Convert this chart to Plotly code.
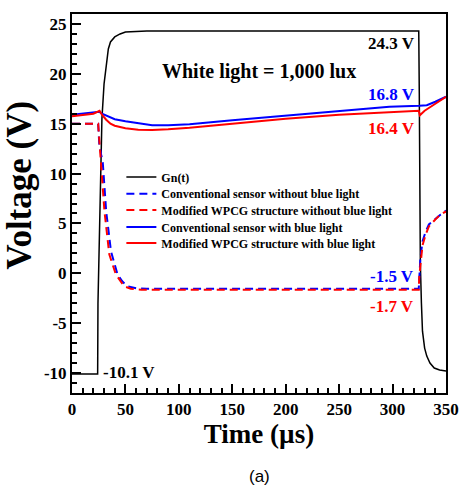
import plotly.graph_objects as go

# ---------------- data ----------------
t_gn = [0, 24, 24.3, 25, 26, 27, 28, 30, 32, 34, 36, 40, 45, 50, 70, 150, 250,
        324.5, 325, 325.5, 326, 327, 328, 330, 332, 335, 339, 344, 350]
v_gn = [-10.1, -10.1, -3, 1, 6, 11, 15.5, 19, 21, 22.5, 23.2, 23.7, 24.0, 24.2, 24.3, 24.3, 24.3,
        24.3, 18, 10, 1, -3, -5.8, -7.5, -8.3, -9.0, -9.5, -9.7, -9.8]

t_conv_nb = [0, 24.5, 25, 25.5, 27.3, 28.8, 32, 36.5, 42.6, 47, 51.8, 60, 70, 150, 250,
             324.5, 325, 326, 328, 331, 334, 340, 345, 350]
v_conv_nb = [15.0, 15.0, 14.0, 13.0, 11.9, 11.1, 6.2, 2.2, -0.1, -0.8, -1.3, -1.5, -1.55, -1.55, -1.55,
             -1.55, -0.5, 1.5, 3.2, 4.2, 4.9, 5.5, 5.9, 6.3]

t_mod_nb = [0, 24.5, 25, 26, 27.3, 30.4, 34.9, 41, 48.8, 55, 65, 150, 250,
            324.5, 325, 325.5, 326.5, 328, 331, 334, 340, 345, 350]
v_mod_nb = [15.0, 15.0, 14.2, 12.8, 11.2, 6.2, 1.9, -0.1, -1.3, -1.55, -1.65, -1.65, -1.65,
            -1.65, -0.3, 0.3, 1.0, 2.8, 3.9, 4.7, 5.4, 5.9, 6.2]

t_conv_b = [0, 10, 20, 25.5, 28, 32, 36, 40, 50, 62, 75, 90, 110, 150, 200, 250, 297,
            325, 332, 340, 350]
v_conv_b = [15.9, 16.0, 16.1, 16.2, 16.0, 15.8, 15.6, 15.45, 15.25, 15.05, 14.85, 14.85, 14.95,
            15.35, 15.8, 16.3, 16.7, 16.8, 16.85, 17.2, 17.7]

t_mod_b = [0, 10, 20, 25.8, 28, 32, 36, 40, 50, 62, 75, 90, 110, 150, 200, 250, 297,
           324.5, 325.5, 330, 340, 350]
v_mod_b = [15.75, 15.85, 16.0, 16.3, 15.9, 15.4, 15.0, 14.8, 14.55, 14.4, 14.38, 14.45, 14.6,
           15.0, 15.5, 15.9, 16.2, 16.3, 15.85, 16.3, 17.0, 17.7]

series_names = ["Gn(t)",
                "Conventional sensor without blue light",
                "Modified WPCG structure without blue light",
                "Conventional sensor with blue light",
                "Modified WPCG structure with blue light"]

label_texts = ["24.3 V", "White light = 1,000 lux", "16.8 V", "16.4 V", "-1.5 V", "-1.7 V", "-10.1 V"]
label_x = [299, 175, 299, 299, 299, 299, 53]
label_y = [23.0, 20.2, 17.9, 14.5, -0.3, -3.3, -9.9]

x_tick_vals = [0, 50, 100, 150, 200, 250, 300, 350]
y_tick_vals = [-10, -5, 0, 5, 10, 15, 20, 25]
y_tick_text = ["-10", "-5", "0", "5", "10", "15", "20", "25"]

x_title = "Time (µs)"
y_title = "Voltage (V)"
caption = "(a)"

# ---------------- figure ----------------
SERIF = "Liberation Serif, Times New Roman, serif"
BLUE = "#0000ff"
RED = "#ff0000"

legend_ids = ["legend", "legend2", "legend3", "legend4", "legend5"]
styles = [dict(color="black", width=1.5),
          dict(color=BLUE, width=2, dash="8px,5px"),
          dict(color=RED, width=2, dash="8px,5px"),
          dict(color=BLUE, width=2),
          dict(color=RED, width=2)]
xs = [t_gn, t_conv_nb, t_mod_nb, t_conv_b, t_mod_b]
ys = [v_gn, v_conv_nb, v_mod_nb, v_conv_b, v_mod_b]

fig = go.Figure()
for x, y, name, st, lg in zip(xs, ys, series_names, styles, legend_ids):
    fig.add_trace(go.Scatter(x=x, y=y, mode="lines", name=name, line=st, legend=lg))

label_colors = ["black", "black", BLUE, RED, BLUE, RED, "black"]
label_sizes = [17, 20, 17, 17, 17, 17, 17]
for txt, xx, yy, c, s in zip(label_texts, label_x, label_y, label_colors, label_sizes):
    fig.add_annotation(x=xx, y=yy, xref="x", yref="y", text=txt, showarrow=False,
                       font=dict(family=SERIF, size=s, color=c, weight="bold"))

fig.add_annotation(x=0.5, y=0, xref="paper", yref="paper", yshift=-83, yanchor="middle",
                   text=caption, showarrow=False,
                   font=dict(family="Liberation Sans, Arial, sans-serif", size=17, color="black"))

# y-axis title placed as rotated text
fig.add_annotation(x=0, y=0.547, xref="paper", yref="paper", xshift=-52, textangle=-90,
                   xanchor="center", yanchor="middle", text=y_title, showarrow=False,
                   font=dict(family=SERIF, size=35, color="black", weight="bold"))

axis_common = dict(showline=True, linecolor="black", linewidth=2, mirror=True,
                   ticks="inside", ticklen=9, tickwidth=2, tickcolor="black",
                   showgrid=False, zeroline=False,
                   tickfont=dict(family=SERIF, size=17, color="black", weight="bold"))

fig.update_xaxes(range=[0, 350], tickmode="array", tickvals=x_tick_vals,
                 minor=dict(ticks="inside", ticklen=5, tickwidth=1.5, tickcolor="black",
                            tickmode="linear", tick0=0, dtick=10),
                 title=dict(text=x_title, standoff=4,
                            font=dict(family=SERIF, size=27, color="black", weight="bold")),
                 **axis_common)
fig.update_yaxes(range=[-12, 26], tickmode="array", tickvals=y_tick_vals, ticktext=y_tick_text,
                 minor=dict(ticks="inside", ticklen=5, tickwidth=1.5, tickcolor="black",
                            tickmode="linear", tick0=0, dtick=1),
                 **axis_common)

legend_style = dict(x=0.132, xanchor="left", yanchor="top", bgcolor="rgba(0,0,0,0)",
                    borderwidth=0,
                    font=dict(family=SERIF, size=12, color="black", weight="bold"))
legend_tops = [0.6079, 0.5642, 0.5211, 0.4763, 0.4342]
layout_legends = {lg: dict(y=yt, **legend_style) for lg, yt in zip(legend_ids, legend_tops)}

fig.update_layout(width=471, height=489, margin=dict(l=72, r=19, t=13, b=96),
                  paper_bgcolor="white", plot_bgcolor="white",
                  showlegend=True, **layout_legends)

fig.write_html("out.html")
